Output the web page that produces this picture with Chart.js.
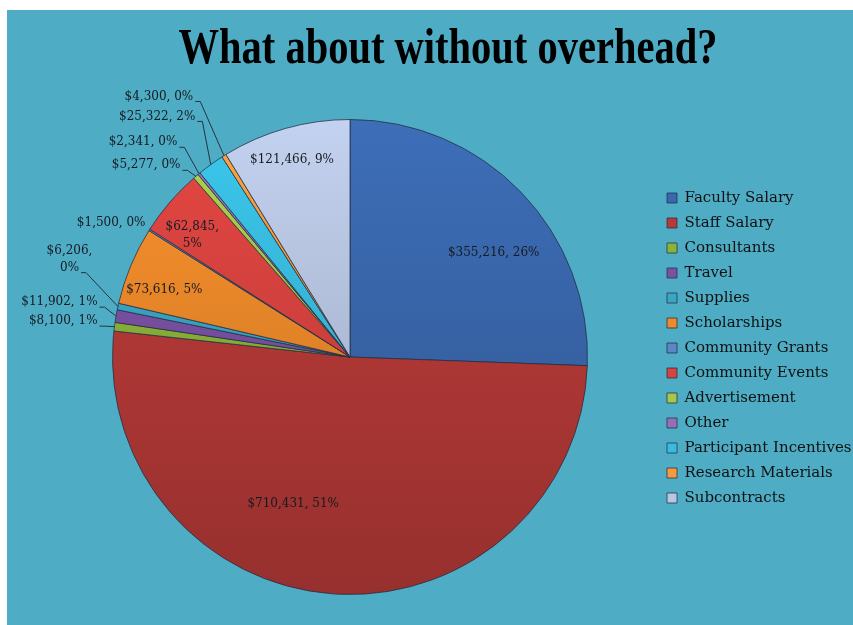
<!DOCTYPE html>
<html>
<head>
<meta charset="utf-8">
<title>What about without overhead?</title>
<script src="https://cdn.jsdelivr.net/npm/chart.js@4.4.1/dist/chart.umd.min.js"></script>
<style>
  html, body { margin: 0; padding: 0; background: #fff; overflow: hidden; }
  #panel { position: absolute; left: 7px; top: 10px; width: 846px; height: 615px; background: #4EACC5; }
</style>
</head>
<body>
<div id="panel"><canvas id="budgetPie"></canvas></div>
<script>
const TITLE = 'What about without overhead?';

const categories = [
  'Faculty Salary', 'Staff Salary', 'Consultants', 'Travel', 'Supplies', 'Scholarships',
  'Community Grants', 'Community Events', 'Advertisement', 'Other',
  'Participant Incentives', 'Research Materials', 'Subcontracts'
];
const amounts = [355216, 710431, 8100, 11902, 6206, 73616, 1500, 62845, 5277, 2341, 25322, 4300, 121466];

const sliceColors = [
  '#3A68AE', '#B73A38', '#8DB33A', '#7A52A5', '#3AA6C4', '#EE8A2A',
  '#5B87C8', '#D9433F', '#A5C84A', '#9370B8', '#38BDE0', '#F59B3D', '#B8C6E2'
];

// label placement, in pie radii from the pie centre ("at" is the text's right end when align is right)
const labelSpots = [
  { at: [0.605, -0.437], align: 'center' },
  { at: [-0.239, 0.618], align: 'center' },
  { at: [-1.063, -0.151], align: 'right', leader: true },
  { at: [-1.063, -0.231], align: 'right', leader: true },
  { at: [-1.181, -0.412], align: 'center', leader: true, wrap: true },
  { at: [-0.782, -0.282], align: 'center' },
  { at: [-0.861, -0.564], align: 'right' },
  { at: [-0.664, -0.513], align: 'center', wrap: true },
  { at: [-0.714, -0.807], align: 'right', leader: true },
  { at: [-0.727, -0.904], align: 'right', leader: true },
  { at: [-0.651, -1.013], align: 'right', leader: true },
  { at: [-0.660, -1.097], align: 'right', leader: true },
  { at: [-0.244, -0.832], align: 'center' }
];

const total = amounts.reduce((a, b) => a + b, 0);
const money = v => '$' + v.toLocaleString('en-US');

function shade(hex, f) {
  const n = parseInt(hex.slice(1), 16);
  const ch = s => Math.max(0, Math.min(255, Math.round(((n >> s) & 255) * f)));
  return `rgb(${ch(16)},${ch(8)},${ch(0)})`;
}

/* title: tall condensed serif, like the slide */
const squeezedTitle = {
  id: 'squeezedTitle',
  afterDraw(chart) {
    const c = chart.ctx;
    c.save();
    c.font = 'bold 50px "Liberation Serif", "Times New Roman", serif';
    c.fillStyle = '#000';
    c.textAlign = 'center';
    c.textBaseline = 'alphabetic';
    c.translate((chart.chartArea.left + chart.width) / 2, 53);
    c.scale(0.81, 1);
    c.fillText(TITLE, 0, 0);
    c.restore();
  }
};

/* legend sits a little higher than the pie centre */
const legendNudge = {
  id: 'legendNudge',
  afterLayout(chart) {
    chart.legend.top -= 9;
    chart.legend.bottom -= 9;
  }
};

/* value labels + leader lines */
const sliceLabels = {
  id: 'sliceLabels',
  afterDatasetsDraw(chart) {
    const c = chart.ctx;
    const arcs = chart.getDatasetMeta(0).data;
    c.save();
    c.font = '12px "DejaVu Serif", serif';
    c.fillStyle = '#151a20';
    c.strokeStyle = '#24343f';
    c.lineWidth = 1;
    c.textBaseline = 'middle';
    arcs.forEach((arc, i) => {
      const spot = labelSpots[i];
      const R = arc.outerRadius;
      const x = arc.x + spot.at[0] * R;
      const y = arc.y + spot.at[1] * R;
      const pct = Math.round(amounts[i] / total * 100) + '%';
      const lines = spot.wrap ? [money(amounts[i]) + ',', pct] : [money(amounts[i]) + ', ' + pct];
      c.textAlign = spot.align;
      const lh = 17;
      const y0 = y - (lines.length - 1) * lh / 2;
      lines.forEach((t, k) => c.fillText(t, x, y0 + k * lh));
      if (spot.leader) {
        const last = lines[lines.length - 1];
        const w = c.measureText(last).width;
        const right = spot.align === 'right' ? x : x + w / 2;
        const ly = y0 + (lines.length - 1) * lh + 5;
        const mid = (arc.startAngle + arc.endAngle) / 2;
        c.beginPath();
        c.moveTo(right + 2, ly);
        c.lineTo(right + 7, ly);
        c.lineTo(arc.x + Math.cos(mid) * R, arc.y + Math.sin(mid) * R);
        c.stroke();
      }
    });
    c.restore();
  }
};

new Chart(document.getElementById('budgetPie'), {
  type: 'pie',
  data: {
    labels: categories,
    datasets: [{
      data: amounts,
      backgroundColor: (ctx) => {
        const base = sliceColors[ctx.dataIndex];
        const area = ctx.chart.chartArea;
        if (!area || ctx.type !== 'data') return base;
        const g = ctx.chart.ctx.createLinearGradient(0, area.top, 0, area.bottom);
        g.addColorStop(0, shade(base, 1.06));
        g.addColorStop(1, shade(base, 0.82));
        return g;
      },
      borderColor: 'rgba(35,45,65,0.75)',
      borderWidth: 1
    }]
  },
  options: {
    responsive: true, maintainAspectRatio: false,
    animation: false, events: [],
    layout: { padding: { top: 109, left: 36, right: 0, bottom: 30 } },
    plugins: {
      title: { display: false },
      tooltip: { enabled: false },
      legend: {
        position: 'right', align: 'center', maxWidth: 196,
        labels: {
          color: '#111', boxWidth: 10, boxHeight: 10, padding: 10,
          font: { family: '"DejaVu Serif", serif', size: 15 },
          generateLabels: (chart) => Chart.PieController.overrides.plugins.legend.labels
            .generateLabels(chart).map((item, i) => ({ ...item, fillStyle: sliceColors[i] }))
        }
      }
    }
  },
  plugins: [sliceLabels, squeezedTitle, legendNudge]
});
</script>
</body>
</html>
